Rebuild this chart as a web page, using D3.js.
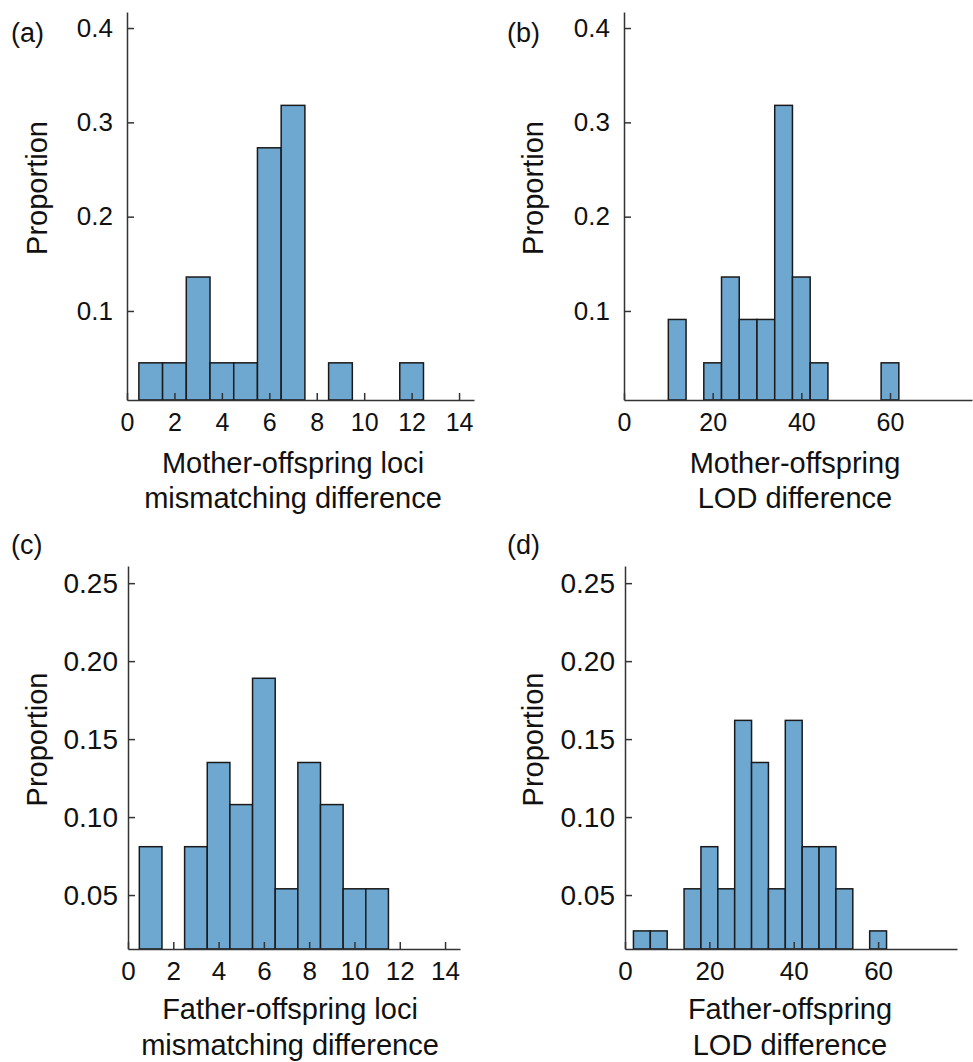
<!DOCTYPE html>
<html>
<head>
<meta charset="utf-8">
<script src="https://cdn.jsdelivr.net/npm/d3@7"></script>
<style>
  body { margin: 0; background: #fff; }
  svg { display: block; font-family: "Liberation Sans", Arial, Helvetica, sans-serif; }
  .axis path, .axis line { stroke: #333; stroke-width: 1.5; }
  .axis text { fill: #111; }
  .title { font-size: 29px; fill: #111; }
  .panel-label { font-size: 27px; fill: #111; }
</style>
</head>
<body>
<svg id="chart" width="973" height="1062"></svg>
<script>
// (a) mother-offspring loci mismatching, bin width 1
const aBins = [0.5, 1.5, 2.5, 3.5, 4.5, 5.5, 6.5, 8.5, 11.5]
const aValues = [0.045, 0.045, 0.136, 0.045, 0.045, 0.273, 0.318, 0.045, 0.045]
// (b) mother-offspring LOD, bin width 4
const bBins = [10, 18, 22, 26, 30, 34, 38, 42, 58]
const bValues = [0.091, 0.045, 0.136, 0.091, 0.091, 0.318, 0.136, 0.045, 0.045]
// (c) father-offspring loci mismatching, bin width 1
const cBins = [0.5, 2.5, 3.5, 4.5, 5.5, 6.5, 7.5, 8.5, 9.5, 10.5]
const cValues = [0.081, 0.081, 0.135, 0.108, 0.189, 0.054, 0.135, 0.108, 0.054, 0.054]
// (d) father-offspring LOD, bin width 4
const dBins = [2, 6, 14, 18, 22, 26, 30, 34, 38, 42, 46, 50, 58]
const dValues = [0.027, 0.027, 0.054, 0.081, 0.054, 0.162, 0.135, 0.054, 0.162, 0.081, 0.081, 0.054, 0.027]

const lociTicks = [0, 2, 4, 6, 8, 10, 12, 14]
const lodTicks = [0, 20, 40, 60]
const topTicks = [0.1, 0.2, 0.3, 0.4]
const bottomTicks = [0.05, 0.10, 0.15, 0.20, 0.25]

const svg = d3.select('#chart')

const panels = [
  {
    label: '(a)', bins: aBins, values: aValues, binWidth: 1,
    xDomain: [0, 14.63], yDomain: [0.0056, 0.417], xTicks: lociTicks, yTicks: topTicks, yFmt: d3.format('.1f'),
    left: 127, right: 474, top: 12, bottom: 400, labelX: 11, labelY: 42, fs: 25, yfs: 26, yPad: 14,
    title: ['Mother-offspring loci', 'mismatching difference'], titleX: 293, titleY: [473, 508]
  },
  {
    label: '(b)', bins: bBins, values: bValues, binWidth: 4,
    xDomain: [0, 78.5], yDomain: [0.0056, 0.417], xTicks: lodTicks, yTicks: topTicks, yFmt: d3.format('.1f'),
    left: 624, right: 972, top: 12, bottom: 400, labelX: 507, labelY: 42, fs: 25, yfs: 26, yPad: 14,
    title: ['Mother-offspring', 'LOD difference'], titleX: 795, titleY: [473, 508]
  },
  {
    label: '(c)', bins: cBins, values: cValues, binWidth: 1,
    xDomain: [0, 14.66], yDomain: [0.0154, 0.261], xTicks: lociTicks, yTicks: bottomTicks, yFmt: d3.format('.2f'),
    left: 128, right: 460, top: 566, bottom: 949, labelX: 11, labelY: 554, fs: 26, yfs: 28, yPad: 10,
    title: ['Father-offspring loci', 'mismatching difference'], titleX: 290, titleY: [1019, 1055]
  },
  {
    label: '(d)', bins: dBins, values: dValues, binWidth: 4,
    xDomain: [0, 78.7], yDomain: [0.0154, 0.261], xTicks: lodTicks, yTicks: bottomTicks, yFmt: d3.format('.2f'),
    left: 625, right: 957, top: 566, bottom: 949, labelX: 507, labelY: 554, fs: 26, yfs: 28, yPad: 10,
    title: ['Father-offspring', 'LOD difference'], titleX: 790, titleY: [1019, 1055]
  }
]

function drawPanel (p) {
  const x = d3.scaleLinear().domain(p.xDomain).range([p.left, p.right])
  const y = d3.scaleLinear().domain(p.yDomain).range([p.bottom, p.top])
  const g = svg.append('g')

  const data = p.bins.map((b, i) => ({ x0: b, x1: b + p.binWidth, value: p.values[i] }))

  g.selectAll('rect.bar')
    .data(data)
    .enter()
    .append('rect')
    .attr('class', 'bar')
    .attr('x', d => x(d.x0))
    .attr('width', d => x(d.x1) - x(d.x0))
    .attr('y', d => y(d.value))
    .attr('height', d => p.bottom - y(d.value))
    .attr('fill', '#6ea8d1')
    .attr('stroke', '#1a1a1a')
    .attr('stroke-width', 1.5)

  g.append('g')
    .attr('class', 'axis')
    .attr('transform', `translate(0,${p.bottom})`)
    .call(d3.axisBottom(x).tickValues(p.xTicks).tickSize(-7).tickSizeOuter(0).tickPadding(13))
    .attr('font-size', p.fs)
    .attr('font-family', null)

  g.append('g')
    .attr('class', 'axis')
    .attr('transform', `translate(${p.left},0)`)
    .call(d3.axisLeft(y).tickValues(p.yTicks).tickFormat(p.yFmt).tickSize(-7).tickSizeOuter(0).tickPadding(p.yPad))
    .attr('font-size', p.yfs)
    .attr('font-family', null)

  g.selectAll('.axis .domain').attr('fill', 'none')

  g.append('text')
    .attr('class', 'panel-label')
    .attr('x', p.labelX)
    .attr('y', p.labelY)
    .text(p.label)

  g.append('text')
    .attr('class', 'title')
    .attr('transform', `translate(${p.labelX + 36},${(p.top + p.bottom) / 2 - 18}) rotate(-90)`)
    .attr('text-anchor', 'middle')
    .text('Proportion')

  p.title.forEach((line, i) => {
    g.append('text')
      .attr('class', 'title')
      .attr('x', p.titleX)
      .attr('y', p.titleY[i])
      .attr('text-anchor', 'middle')
      .text(line)
  })
}

panels.forEach(drawPanel)
</script>
</body>
</html>
